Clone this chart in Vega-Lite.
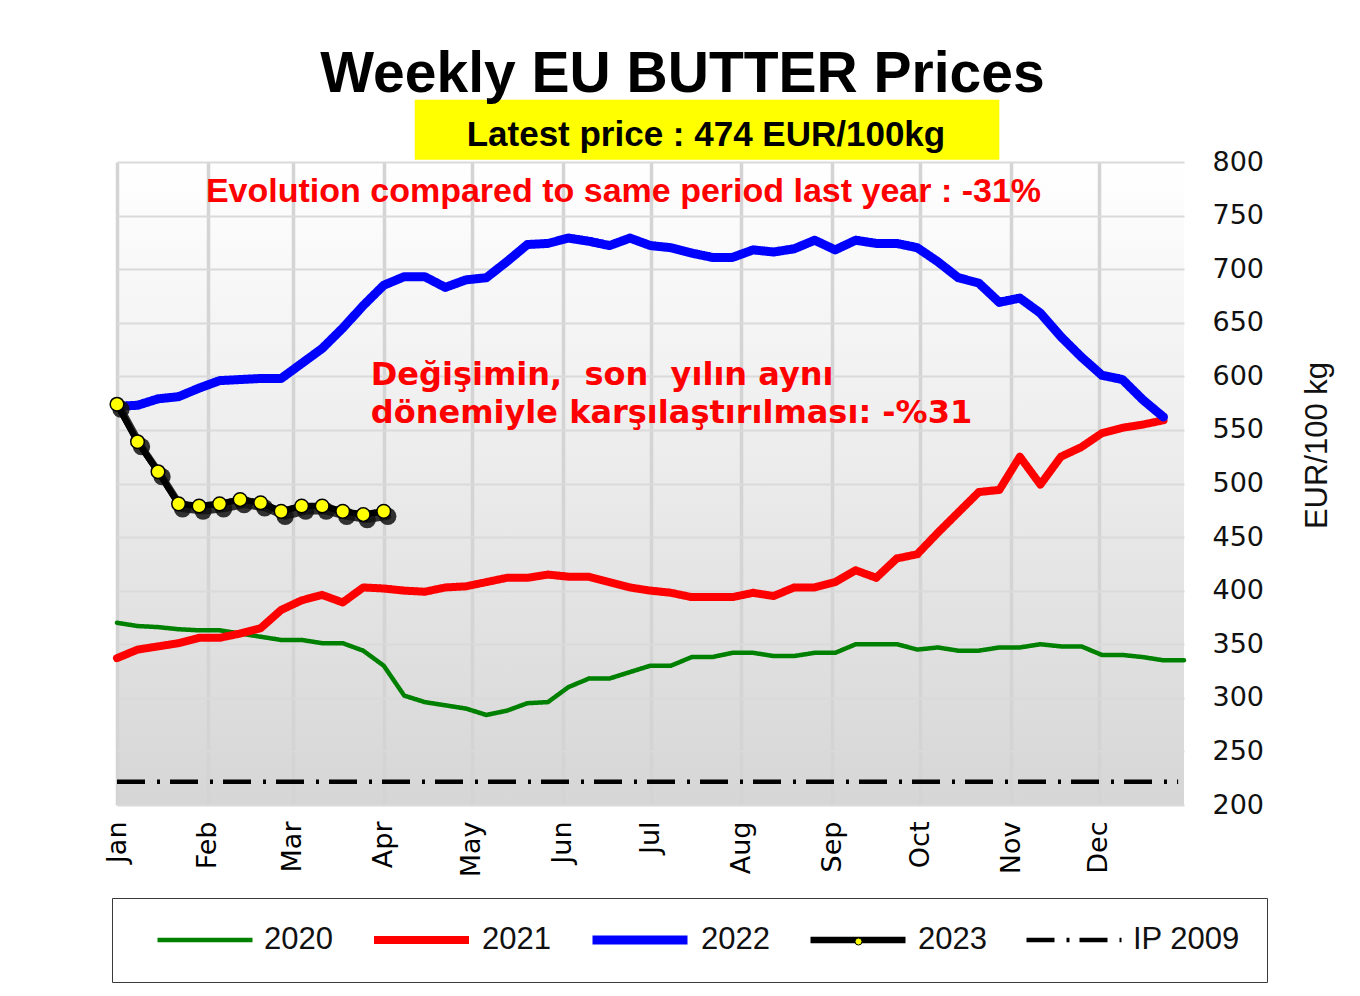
{
  "$schema": "https://vega.github.io/schema/vega-lite/v6.json",
  "width": 1067,
  "height": 643,
  "autosize": {"type": "none"},
  "padding": {"left": 117, "top": 162, "right": 176, "bottom": 191},
  "background": "white",
  "title": {"text": "Weekly EU BUTTER Prices", "font": "Liberation Sans", "fontSize": 57, "fontWeight": "bold", "color": "#000000", "anchor": "middle", "frame": "group", "dx": 32, "offset": -4},
  "data": {"values": [
    {"s":"2020","d":"2020/01/01","v":370},{"s":"2020","d":"2020/01/08","v":367},{"s":"2020","d":"2020/01/15","v":366},{"s":"2020","d":"2020/01/22","v":364},{"s":"2020","d":"2020/01/29","v":363},{"s":"2020","d":"2020/02/05","v":363},{"s":"2020","d":"2020/02/12","v":360},{"s":"2020","d":"2020/02/19","v":357},{"s":"2020","d":"2020/02/26","v":354},{"s":"2020","d":"2020/03/04","v":354},{"s":"2020","d":"2020/03/11","v":351},{"s":"2020","d":"2020/03/18","v":351},{"s":"2020","d":"2020/03/25","v":344},{"s":"2020","d":"2020/04/01","v":330},{"s":"2020","d":"2020/04/08","v":302},{"s":"2020","d":"2020/04/15","v":296},{"s":"2020","d":"2020/04/22","v":293},{"s":"2020","d":"2020/04/29","v":290},{"s":"2020","d":"2020/05/06","v":284},{"s":"2020","d":"2020/05/13","v":288},{"s":"2020","d":"2020/05/20","v":295},{"s":"2020","d":"2020/05/27","v":296},{"s":"2020","d":"2020/06/03","v":310},{"s":"2020","d":"2020/06/10","v":318},{"s":"2020","d":"2020/06/17","v":318},{"s":"2020","d":"2020/06/24","v":324},{"s":"2020","d":"2020/07/01","v":330},{"s":"2020","d":"2020/07/08","v":330},{"s":"2020","d":"2020/07/15","v":338},{"s":"2020","d":"2020/07/22","v":338},{"s":"2020","d":"2020/07/29","v":342},{"s":"2020","d":"2020/08/05","v":342},{"s":"2020","d":"2020/08/12","v":339},{"s":"2020","d":"2020/08/19","v":339},{"s":"2020","d":"2020/08/26","v":342},{"s":"2020","d":"2020/09/02","v":342},{"s":"2020","d":"2020/09/09","v":350},{"s":"2020","d":"2020/09/16","v":350},{"s":"2020","d":"2020/09/23","v":350},{"s":"2020","d":"2020/09/30","v":345},{"s":"2020","d":"2020/10/07","v":347},{"s":"2020","d":"2020/10/14","v":344},{"s":"2020","d":"2020/10/21","v":344},{"s":"2020","d":"2020/10/28","v":347},{"s":"2020","d":"2020/11/04","v":347},{"s":"2020","d":"2020/11/11","v":350},{"s":"2020","d":"2020/11/18","v":348},{"s":"2020","d":"2020/11/25","v":348},{"s":"2020","d":"2020/12/02","v":340},{"s":"2020","d":"2020/12/09","v":340},{"s":"2020","d":"2020/12/16","v":338},{"s":"2020","d":"2020/12/23","v":335},{"s":"2020","d":"2020/12/30","v":335},
    {"s":"2021","d":"2020/01/01","v":337},{"s":"2021","d":"2020/01/08","v":345},{"s":"2021","d":"2020/01/15","v":348},{"s":"2021","d":"2020/01/22","v":351},{"s":"2021","d":"2020/01/29","v":356},{"s":"2021","d":"2020/02/05","v":356},{"s":"2021","d":"2020/02/12","v":360},{"s":"2021","d":"2020/02/19","v":365},{"s":"2021","d":"2020/02/26","v":382},{"s":"2021","d":"2020/03/04","v":391},{"s":"2021","d":"2020/03/11","v":396},{"s":"2021","d":"2020/03/18","v":389},{"s":"2021","d":"2020/03/25","v":403},{"s":"2021","d":"2020/04/01","v":402},{"s":"2021","d":"2020/04/08","v":400},{"s":"2021","d":"2020/04/15","v":399},{"s":"2021","d":"2020/04/22","v":403},{"s":"2021","d":"2020/04/29","v":404},{"s":"2021","d":"2020/05/06","v":408},{"s":"2021","d":"2020/05/13","v":412},{"s":"2021","d":"2020/05/20","v":412},{"s":"2021","d":"2020/05/27","v":415},{"s":"2021","d":"2020/06/03","v":413},{"s":"2021","d":"2020/06/10","v":413},{"s":"2021","d":"2020/06/17","v":408},{"s":"2021","d":"2020/06/24","v":403},{"s":"2021","d":"2020/07/01","v":400},{"s":"2021","d":"2020/07/08","v":398},{"s":"2021","d":"2020/07/15","v":394},{"s":"2021","d":"2020/07/22","v":394},{"s":"2021","d":"2020/07/29","v":394},{"s":"2021","d":"2020/08/05","v":398},{"s":"2021","d":"2020/08/12","v":395},{"s":"2021","d":"2020/08/19","v":403},{"s":"2021","d":"2020/08/26","v":403},{"s":"2021","d":"2020/09/02","v":408},{"s":"2021","d":"2020/09/09","v":419},{"s":"2021","d":"2020/09/16","v":412},{"s":"2021","d":"2020/09/23","v":430},{"s":"2021","d":"2020/09/30","v":434},{"s":"2021","d":"2020/10/07","v":454},{"s":"2021","d":"2020/10/14","v":473},{"s":"2021","d":"2020/10/21","v":492},{"s":"2021","d":"2020/10/28","v":494},{"s":"2021","d":"2020/11/04","v":525},{"s":"2021","d":"2020/11/11","v":499},{"s":"2021","d":"2020/11/18","v":525},{"s":"2021","d":"2020/11/25","v":534},{"s":"2021","d":"2020/12/02","v":547},{"s":"2021","d":"2020/12/09","v":552},{"s":"2021","d":"2020/12/16","v":555},{"s":"2021","d":"2020/12/23","v":559},
    {"s":"2022","d":"2020/01/01","v":572},{"s":"2022","d":"2020/01/08","v":573},{"s":"2022","d":"2020/01/15","v":579},{"s":"2022","d":"2020/01/22","v":581},{"s":"2022","d":"2020/01/29","v":589},{"s":"2022","d":"2020/02/05","v":596},{"s":"2022","d":"2020/02/12","v":597},{"s":"2022","d":"2020/02/19","v":598},{"s":"2022","d":"2020/02/26","v":598},{"s":"2022","d":"2020/03/04","v":612},{"s":"2022","d":"2020/03/11","v":626},{"s":"2022","d":"2020/03/18","v":645},{"s":"2022","d":"2020/03/25","v":666},{"s":"2022","d":"2020/04/01","v":685},{"s":"2022","d":"2020/04/08","v":693},{"s":"2022","d":"2020/04/15","v":693},{"s":"2022","d":"2020/04/22","v":683},{"s":"2022","d":"2020/04/29","v":690},{"s":"2022","d":"2020/05/06","v":692},{"s":"2022","d":"2020/05/13","v":707},{"s":"2022","d":"2020/05/20","v":723},{"s":"2022","d":"2020/05/27","v":724},{"s":"2022","d":"2020/06/03","v":729},{"s":"2022","d":"2020/06/10","v":726},{"s":"2022","d":"2020/06/17","v":722},{"s":"2022","d":"2020/06/24","v":729},{"s":"2022","d":"2020/07/01","v":722},{"s":"2022","d":"2020/07/08","v":720},{"s":"2022","d":"2020/07/15","v":715},{"s":"2022","d":"2020/07/22","v":711},{"s":"2022","d":"2020/07/29","v":711},{"s":"2022","d":"2020/08/05","v":718},{"s":"2022","d":"2020/08/12","v":716},{"s":"2022","d":"2020/08/19","v":719},{"s":"2022","d":"2020/08/26","v":727},{"s":"2022","d":"2020/09/02","v":718},{"s":"2022","d":"2020/09/09","v":727},{"s":"2022","d":"2020/09/16","v":724},{"s":"2022","d":"2020/09/23","v":724},{"s":"2022","d":"2020/09/30","v":720},{"s":"2022","d":"2020/10/07","v":707},{"s":"2022","d":"2020/10/14","v":692},{"s":"2022","d":"2020/10/21","v":687},{"s":"2022","d":"2020/10/28","v":669},{"s":"2022","d":"2020/11/04","v":673},{"s":"2022","d":"2020/11/11","v":659},{"s":"2022","d":"2020/11/18","v":637},{"s":"2022","d":"2020/11/25","v":618},{"s":"2022","d":"2020/12/02","v":601},{"s":"2022","d":"2020/12/09","v":597},{"s":"2022","d":"2020/12/16","v":578},{"s":"2022","d":"2020/12/23","v":562},
    {"s":"2023","d":"2020/01/01","v":574},{"s":"2023","d":"2020/01/08","v":539},{"s":"2023","d":"2020/01/15","v":511},{"s":"2023","d":"2020/01/22","v":481},{"s":"2023","d":"2020/01/29","v":479},{"s":"2023","d":"2020/02/05","v":481},{"s":"2023","d":"2020/02/12","v":485},{"s":"2023","d":"2020/02/19","v":482},{"s":"2023","d":"2020/02/26","v":474},{"s":"2023","d":"2020/03/04","v":479},{"s":"2023","d":"2020/03/11","v":479},{"s":"2023","d":"2020/03/18","v":474},{"s":"2023","d":"2020/03/25","v":471},{"s":"2023","d":"2020/04/01","v":474},
    {"s":"IP 2009","d":"2020/01/01","v":221.75},{"s":"IP 2009","d":"2020/12/28","v":221.75}
  ]},
  "layer": [
    {
      "encoding": {
        "x": {"field": "d", "type": "temporal",
          "scale": {"domain": [{"year": 2020, "month": 1, "date": 1}, {"year": 2020, "month": 12, "date": 30}]},
          "axis": {"format": "%b", "tickCount": {"interval": "month", "step": 1}, "labelAngle": 270, "labelFont": "DejaVu Sans", "labelFontSize": 27, "labelColor": "#000000", "labelPadding": 16, "labelFlush": false, "labelOverlap": false, "labelBound": false, "grid": true, "gridColor": "#d4d4d4", "gridWidth": 3.5, "title": null}},
        "y": {"field": "v", "type": "quantitative",
          "scale": {"domain": [200, 800], "nice": false, "zero": false},
          "axis": {"orient": "right", "values": [200, 250, 300, 350, 400, 450, 500, 550, 600, 650, 700, 750, 800], "labelFont": "DejaVu Sans", "labelFontSize": 27, "labelColor": "#111111", "labelPadding": 28, "grid": true, "gridColor": "#dadada", "gridWidth": 2, "title": "EUR/100 kg", "titleFont": "Liberation Sans", "titleFontSize": 31, "titleFontWeight": "normal", "titleColor": "#111111", "titleAngle": 270, "titleX": 133, "titleY": 283, "titleAlign": "center", "titleBaseline": "middle"}}
      },
      "layer": [
        {
          "transform": [{"filter": "datum.s == 'IP 2009'"}],
          "mark": {"type": "line", "strokeCap": "butt"},
          "encoding": {
            "color": {"field": "s", "type": "nominal", "scale": {"domain": ["2020", "2021", "2022", "2023", "IP 2009"], "range": ["#008000", "#ff0000", "#0000ff", "#000000", "#000000"]}, "legend": {"title": "\u00a0", "orient": "none", "legendX": -5, "legendY": 736, "direction": "horizontal", "clipHeight": 30}},
            "strokeWidth": {"field": "s", "type": "nominal", "scale": {"type": "ordinal", "domain": ["2020", "2021", "2022", "2023", "IP 2009"], "range": [4.5, 8, 9, 6.5, 4.5]}, "legend": {"title": "\u00a0", "orient": "none", "legendX": -5, "legendY": 736, "direction": "horizontal", "clipHeight": 30}},
            "strokeDash": {"field": "s", "type": "nominal", "scale": {"domain": ["2020", "2021", "2022", "2023", "IP 2009"], "range": [[1, 0], [1, 0], [1, 0], [1, 0], [28, 12, 3, 10]]}, "legend": {"title": "\u00a0", "orient": "none", "legendX": -5, "legendY": 736, "direction": "horizontal", "clipHeight": 30}}
          }
        },
        {
          "transform": [{"filter": "datum.s != 'IP 2009'"}],
          "mark": {"type": "line", "strokeCap": "round", "strokeJoin": "round"},
          "encoding": {
            "color": {"field": "s", "type": "nominal", "scale": {"domain": ["2020", "2021", "2022", "2023", "IP 2009"], "range": ["#008000", "#ff0000", "#0000ff", "#000000", "#000000"]}, "legend": {"title": "\u00a0", "orient": "none", "legendX": -5, "legendY": 736, "direction": "horizontal", "clipHeight": 30}},
            "strokeWidth": {"field": "s", "type": "nominal", "scale": {"type": "ordinal", "domain": ["2020", "2021", "2022", "2023", "IP 2009"], "range": [4.5, 8, 9, 6.5, 4.5]}, "legend": {"title": "\u00a0", "orient": "none", "legendX": -5, "legendY": 736, "direction": "horizontal", "clipHeight": 30}},
            "strokeDash": {"field": "s", "type": "nominal", "scale": {"domain": ["2020", "2021", "2022", "2023", "IP 2009"], "range": [[1, 0], [1, 0], [1, 0], [1, 0], [28, 12, 3, 10]]}, "legend": {"title": "\u00a0", "orient": "none", "legendX": -5, "legendY": 736, "direction": "horizontal", "clipHeight": 30}}
          }
        },
        {
          "transform": [{"filter": "datum.s == '2023'"}],
          "mark": {"type": "line", "color": "#111111", "strokeWidth": 7, "opacity": 0.85, "xOffset": 4, "yOffset": 5, "strokeCap": "round", "strokeJoin": "round"},
          "encoding": {}
        },
        {
          "transform": [{"filter": "datum.s == '2023'"}],
          "mark": {"type": "point", "filled": true, "color": "#111111", "size": 300, "opacity": 0.85, "xOffset": 4, "yOffset": 5},
          "encoding": {}
        },
        {
          "transform": [{"filter": "datum.s == '2023'"}],
          "mark": {"type": "line", "color": "#000000", "strokeWidth": 6, "strokeCap": "round", "strokeJoin": "round"},
          "encoding": {}
        },
        {
          "transform": [{"filter": "datum.s == '2023'"}],
          "mark": {"type": "point", "filled": true, "size": 185, "stroke": "#000000", "strokeWidth": 1.5, "opacity": 1},
          "encoding": {
            "fill": {"field": "s", "type": "nominal", "scale": {"domain": ["2023"], "range": ["#ffff00"]}, "legend": {"title": null, "orient": "none", "legendX": 726, "legendY": 764, "padding": 0, "strokeColor": "rgba(0,0,0,0)", "fillColor": "rgba(0,0,0,0)", "symbolType": "circle", "symbolSize": 49, "symbolStrokeColor": "#000000", "symbolStrokeWidth": 1, "labelExpr": "''", "zindex": 5}}
          }
        }
      ]
    },
    {
      "data": {"values": [{}]},
      "mark": {"type": "rect", "color": "#ffff00"},
      "encoding": {
        "x": {"datum": {"year": 2020, "month": 4, "date": 11, "hours": 14}, "type": "temporal"},
        "x2": {"datum": {"year": 2020, "month": 10, "date": 28}},
        "y": {"datum": 802, "type": "quantitative"},
        "y2": {"datum": 858}
      }
    },
    {
      "data": {"values": [{}]},
      "mark": {"type": "text", "text": "Latest price : 474 EUR/100kg", "font": "Liberation Sans", "fontSize": 35, "fontWeight": "bold", "color": "#000000", "align": "center", "baseline": "alphabetic"},
      "encoding": {
        "x": {"datum": {"year": 2020, "month": 7, "date": 19, "hours": 22}, "type": "temporal"},
        "y": {"datum": 815, "type": "quantitative"}
      }
    },
    {
      "data": {"values": [{}]},
      "mark": {"type": "text", "text": "Evolution compared to same period last year : -31%", "font": "Liberation Sans", "fontSize": 34, "fontWeight": "bold", "color": "#ff0000", "align": "center", "baseline": "alphabetic"},
      "encoding": {
        "x": {"datum": {"year": 2020, "month": 6, "date": 21, "hours": 19}, "type": "temporal"},
        "y": {"datum": 762.7, "type": "quantitative"}
      }
    },
    {
      "data": {"values": [{}]},
      "mark": {"type": "text", "text": ["Değişimin,\u00a0\u00a0son\u00a0\u00a0yılın aynı", "dönemiyle karşılaştırılması: -%31"], "font": "DejaVu Sans", "fontSize": 32, "fontWeight": "bold", "color": "#ff0000", "align": "left", "baseline": "alphabetic", "lineHeight": 38},
      "encoding": {
        "x": {"datum": {"year": 2020, "month": 3, "date": 27, "hours": 14}, "type": "temporal"},
        "y": {"datum": 592, "type": "quantitative"}
      }
    }
  ],
  "config": {
    "view": {"stroke": null, "fill": {"gradient": "linear", "x1": 0, "y1": 0, "x2": 0, "y2": 1, "stops": [{"offset": 0, "color": "#ffffff"}, {"offset": 1, "color": "#d6d6d6"}]}},
    "axis": {"domain": false, "ticks": false},
    "legend": {"padding": 27, "strokeColor": "#3a3a3a", "fillColor": "#ffffff", "symbolType": "stroke", "symbolSize": 9025, "labelFont": "Liberation Sans", "labelFontSize": 31, "labelColor": "#111111", "labelOffset": 9, "columnPadding": 37, "titleOrient": "left", "titleFontSize": 20, "titlePadding": 16, "labelLimit": 400}
  }
}
